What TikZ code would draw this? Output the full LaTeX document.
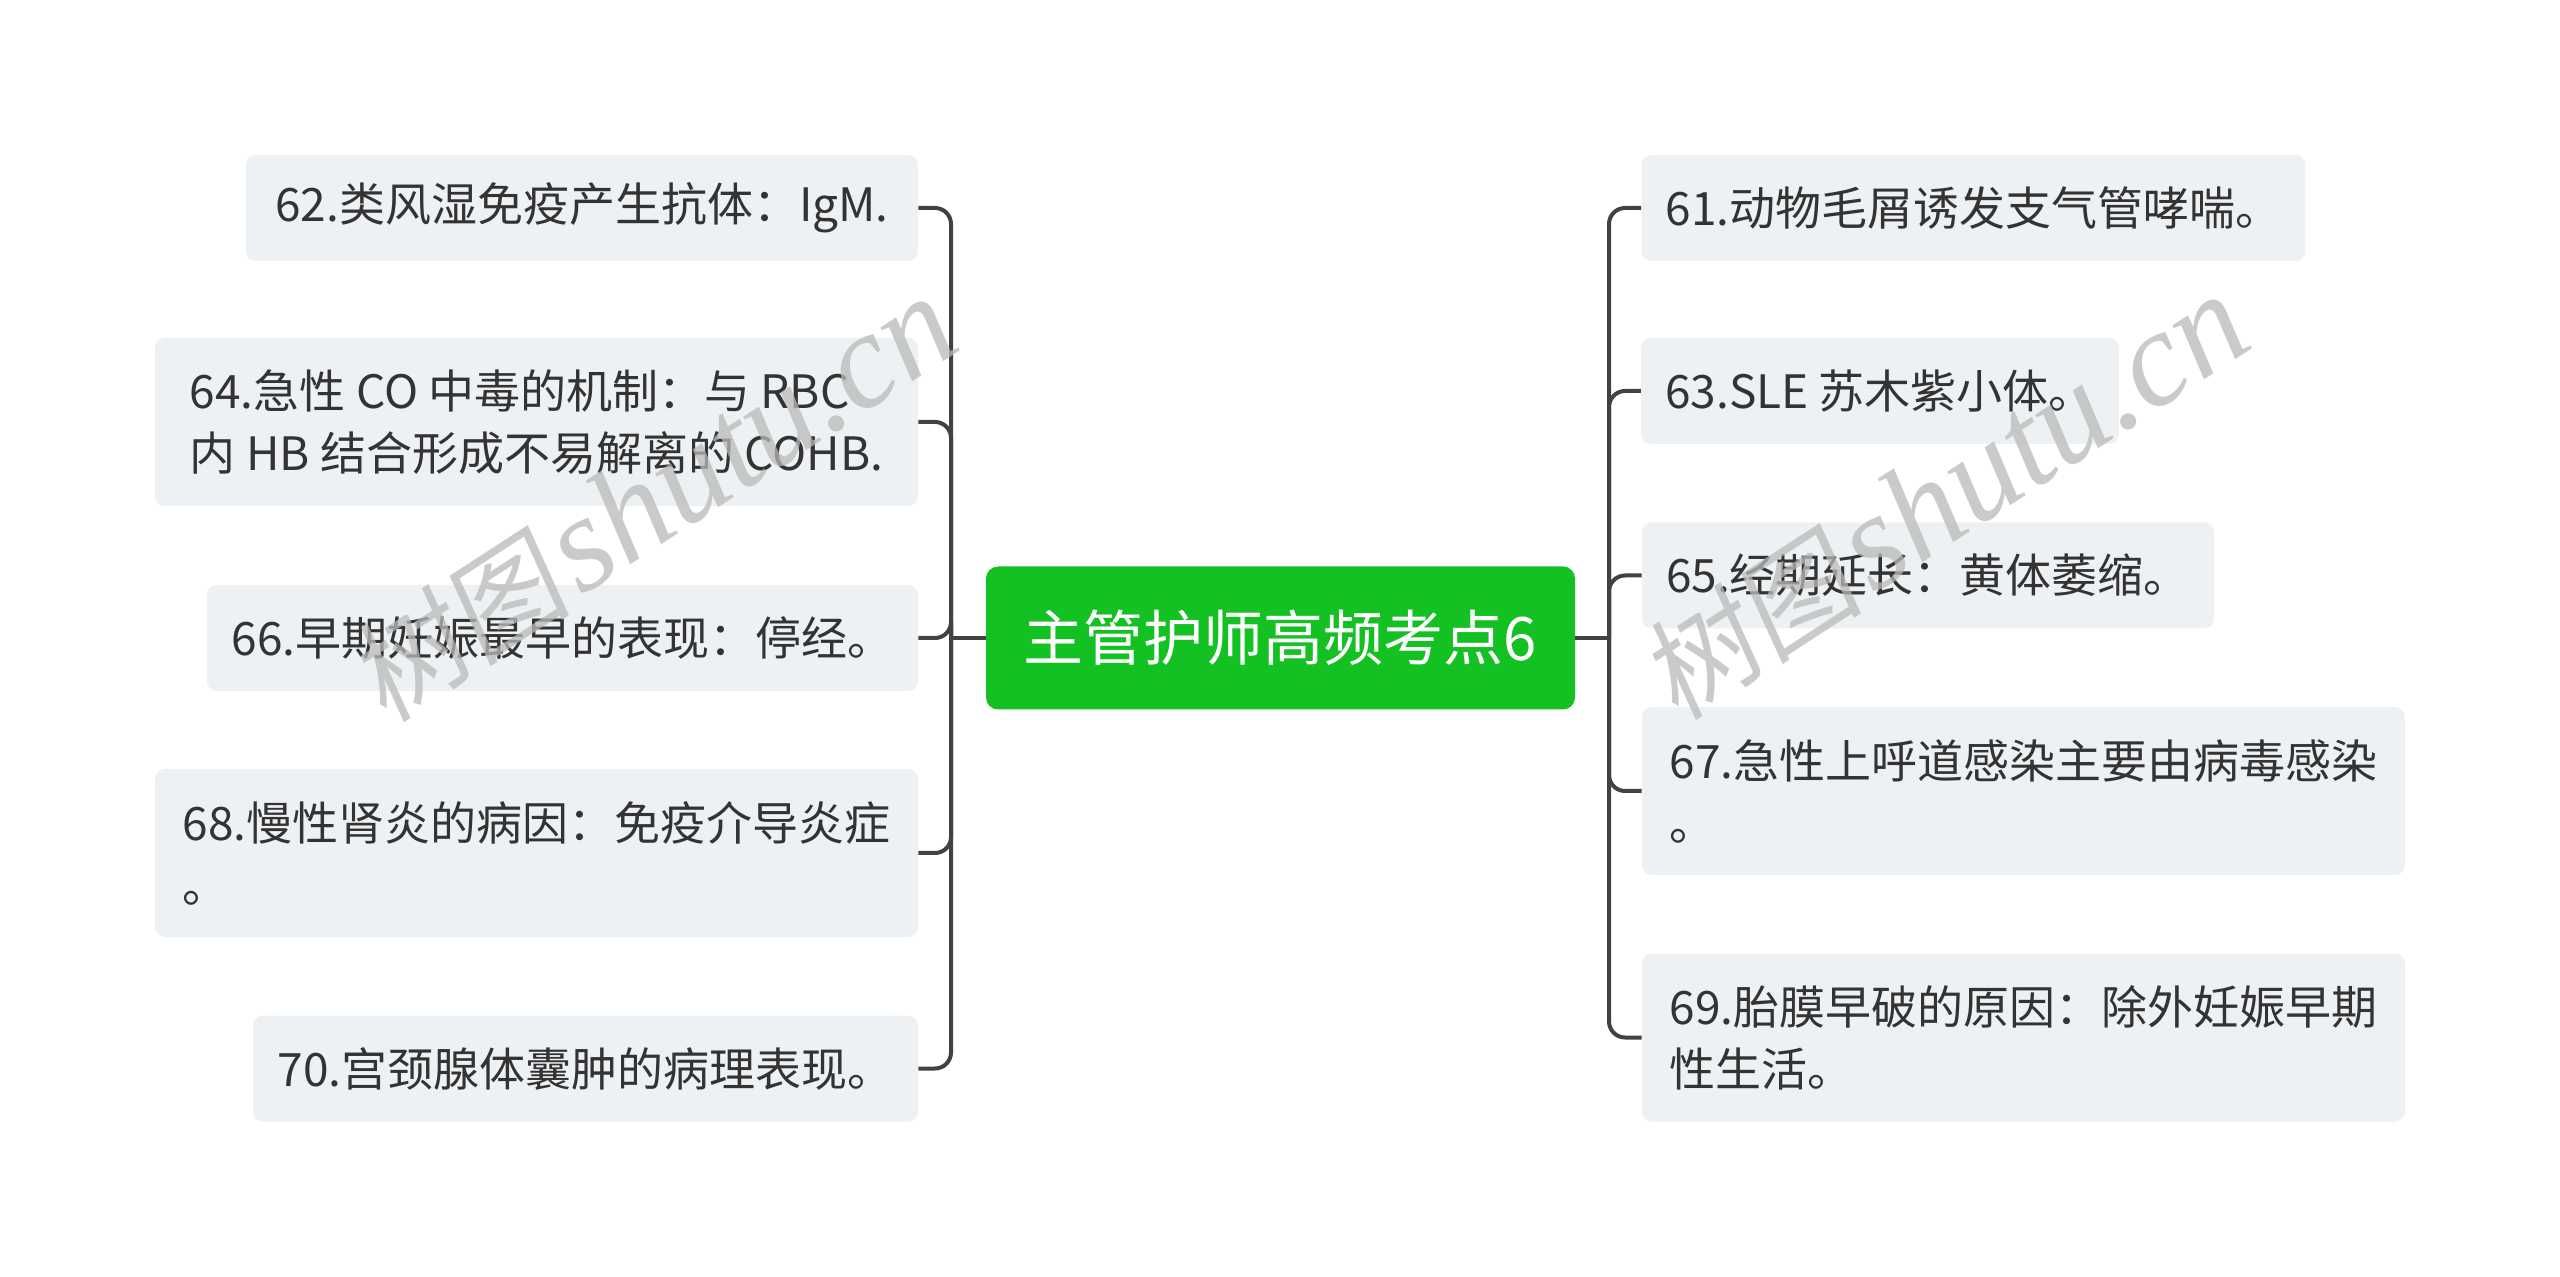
\documentclass[tikz,border=0pt]{standalone}
\usepackage{fontspec}
\setmainfont{Noto Sans CJK SC}
\newfontfamily\wmcjk[FakeSlant=0.15]{Noto Sans CJK SC}
\newfontfamily\wmlat{Liberation Serif}
\definecolor{boxfill}{RGB}{238,241,244}
\definecolor{txt}{RGB}{51,51,51}
\definecolor{rootgreen}{RGB}{19,193,34}
\definecolor{linec}{RGB}{66,66,66}
\definecolor{wmgray}{RGB}{185,185,185}
\begin{document}
\begin{tikzpicture}[x=0.5pt,y=-0.5pt]
\tikzset{
  topic/.style={rectangle, rounded corners=5pt, fill=boxfill, text=txt,
    font=\fontsize{23pt}{31pt}\selectfont, align=left,
    inner xsep=12pt, inner ysep=0pt, minimum height=53pt},
  tall/.style={minimum height=84pt},
  root/.style={rectangle, rounded corners=6pt, fill=rootgreen, text=white,
    font=\fontsize{30pt}{36pt}\selectfont, minimum width=294.5pt, minimum height=71.5pt},
  conn/.style={draw=linec, line width=2pt, rounded corners=8pt},
  wm/.style={text=wmgray, opacity=0.75, inner sep=0pt}
}
\useasboundingbox (0,0) rectangle (2560,1277);
\fill[white] (0,0) rectangle (2560,1277);

\node[root] (root) at (1280.5,638) {主管护师高频考点6};

% left side
\node[topic, minimum width=336pt] (n62) at (582,208) {62.类风湿免疫产生抗体：IgM.};
\node[topic, tall, minimum width=381.5pt] (n64) at (536.5,422) {64.急性 CO 中毒的机制：与 RBC\\内 HB 结合形成不易解离的 COHB.};
\node[topic, minimum width=355.5pt] (n66) at (562.5,638) {66.早期妊娠最早的表现：停经。};
\node[topic, tall, minimum width=381.5pt] (n68) at (536.5,853) {68.慢性肾炎的病因：免疫介导炎症\\。};
\node[topic, minimum width=332.5pt] (n70) at (585.5,1068.5) {70.宫颈腺体囊肿的病理表现。};

% right side
\node[topic, minimum width=331.5pt] (n61) at (1973.5,208) {61.动物毛屑诱发支气管哮喘。};
\node[topic, minimum width=238pt] (n63) at (1880,391) {63.SLE 苏木紫小体。};
\node[topic, minimum width=286pt] (n65) at (1928,575.5) {65.经期延长：黄体萎缩。};
\node[topic, tall, minimum width=381.5pt] (n67) at (2023.5,791) {67.急性上呼道感染主要由病毒感染\\。};
\node[topic, tall, minimum width=381.5pt] (n69) at (2023.5,1037.5) {69.胎膜早破的原因：除外妊娠早期\\性生活。};

% junctions
\coordinate (LJ) at (951,638);
\coordinate (RJ) at (1609,638);

\draw[conn] (root.west) -- (LJ);
\draw[conn] (root.east) -- (RJ);
\foreach \n in {n62,n64,n66,n68,n70} { \draw[conn] (LJ) |- (\n.east); }
\foreach \n in {n61,n63,n65,n67,n69} { \draw[conn] (RJ) |- (\n.west); }

% watermarks
\node[wm, rotate=33] (wm1) at (652,500) {{\wmcjk\fontsize{56pt}{62pt}\selectfont 树图}\hspace{5pt}{\wmlat\itshape\fontsize{68pt}{74pt}\selectfont shutu.cn}};
\node[wm, rotate=33] (wm2) at (1944,498) {{\wmcjk\fontsize{56pt}{62pt}\selectfont 树图}\hspace{5pt}{\wmlat\itshape\fontsize{68pt}{74pt}\selectfont shutu.cn}};
\end{tikzpicture}
\end{document}
